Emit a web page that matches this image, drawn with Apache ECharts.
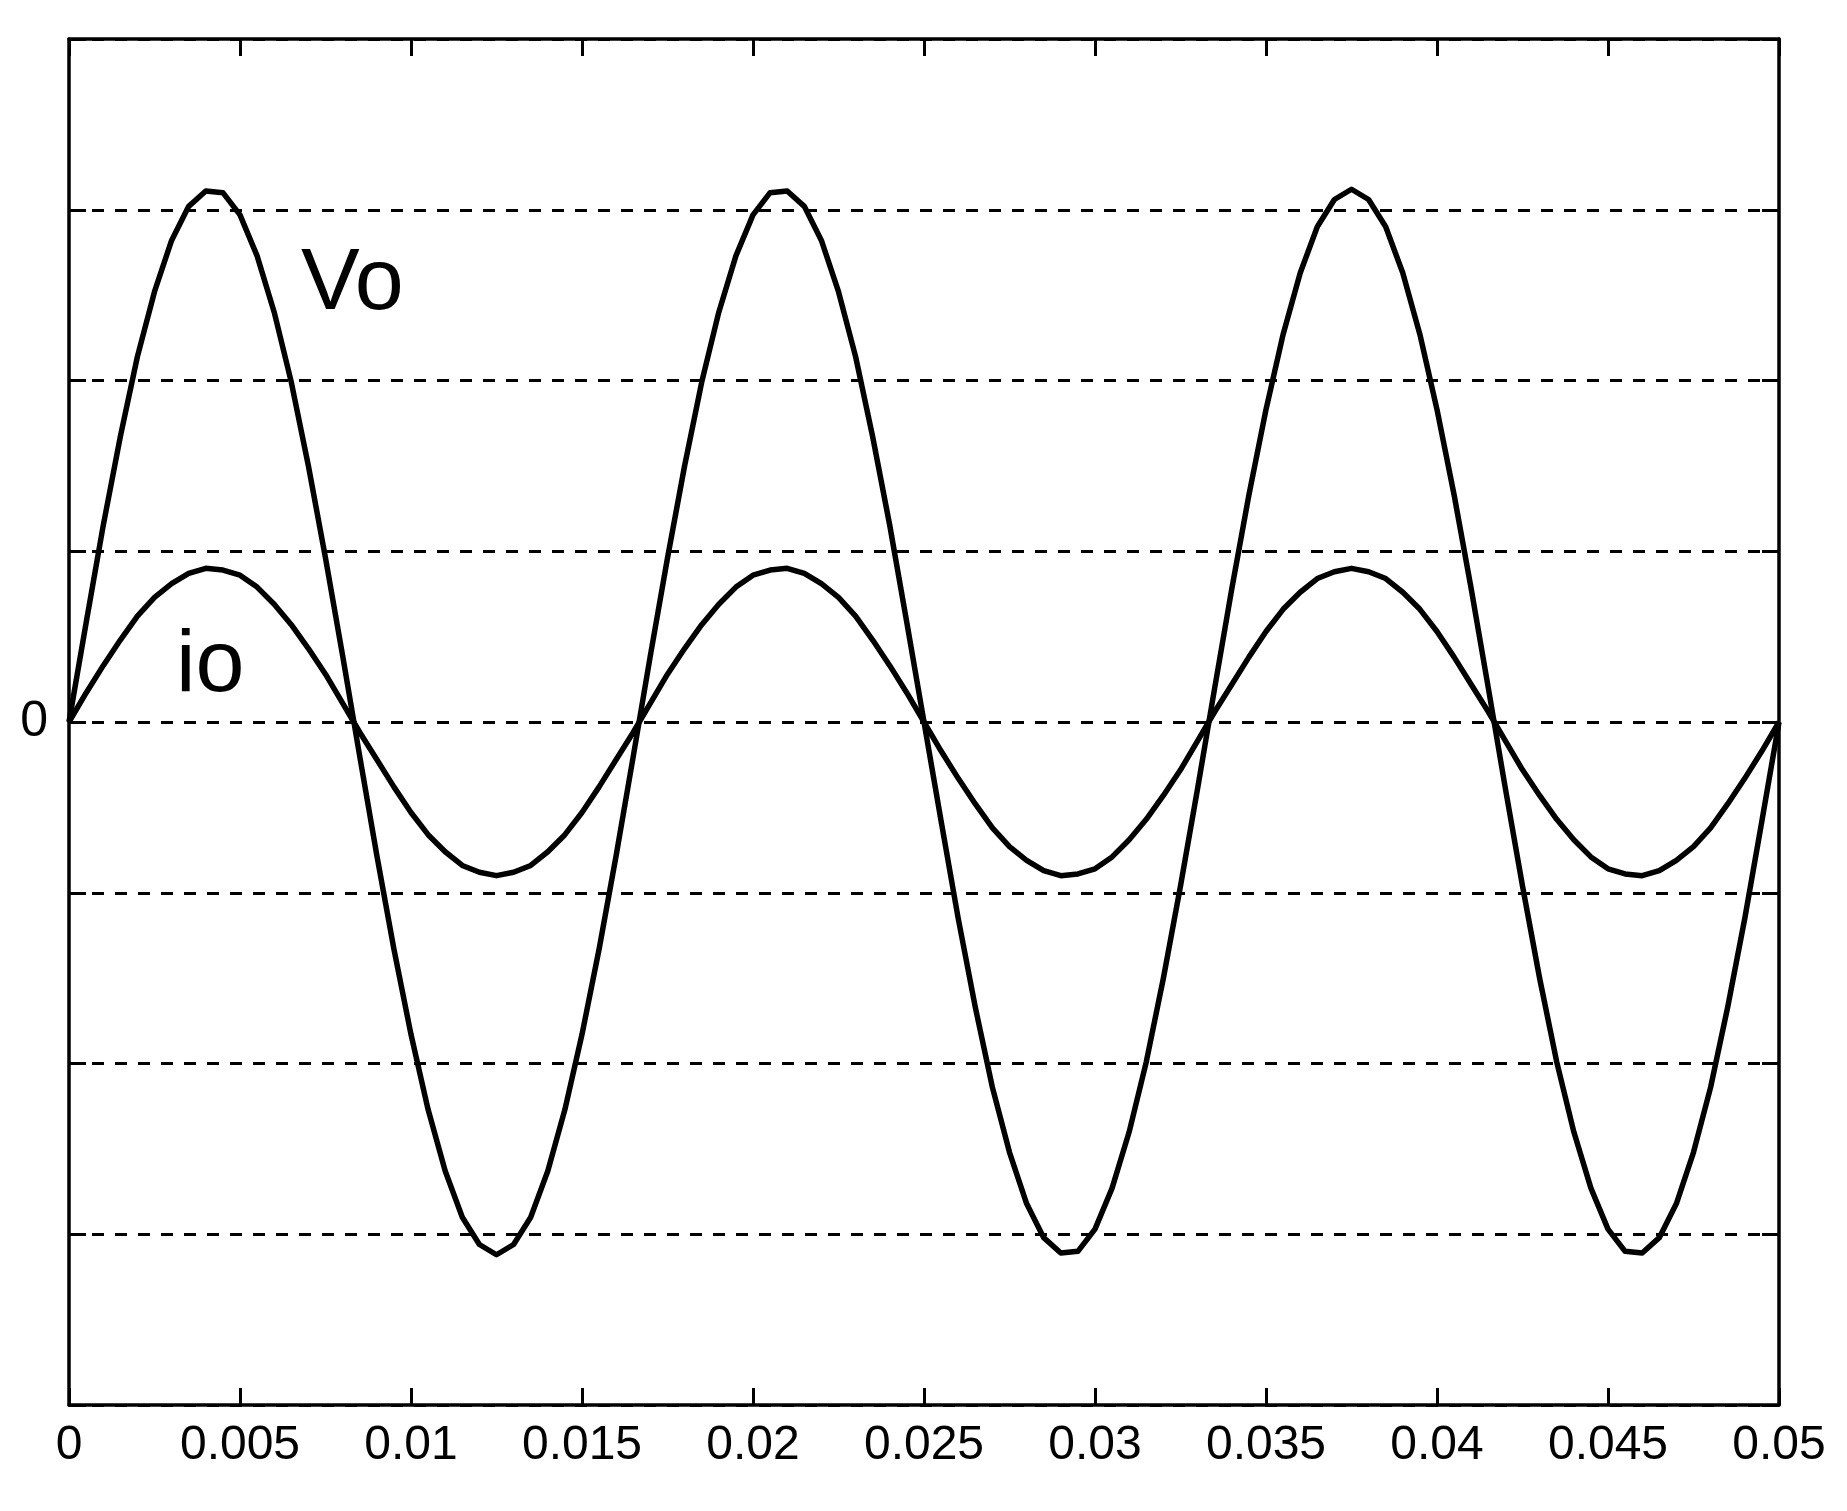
<!DOCTYPE html>
<html>
<head>
<meta charset="utf-8">
<script src="https://cdn.jsdelivr.net/npm/echarts@6/dist/echarts.min.js"></script>
<style>html,body{margin:0;padding:0;background:#fff;}#c{width:1847px;height:1511px;}</style>
</head>
<body>
<div id="c"></div>
<script>
// time samples (s)
const time = [
0,0.0005,0.001,0.0015,0.002,0.0025,0.003,0.0035,0.004,0.0045,
0.005,0.0055,0.006,0.0065,0.007,0.0075,0.008,0.0085,0.009,0.0095,
0.01,0.0105,0.011,0.0115,0.012,0.0125,0.013,0.0135,0.014,0.0145,
0.015,0.0155,0.016,0.0165,0.017,0.0175,0.018,0.0185,0.019,0.0195,
0.02,0.0205,0.021,0.0215,0.022,0.0225,0.023,0.0235,0.024,0.0245,
0.025,0.0255,0.026,0.0265,0.027,0.0275,0.028,0.0285,0.029,0.0295,
0.03,0.0305,0.031,0.0315,0.032,0.0325,0.033,0.0335,0.034,0.0345,
0.035,0.0355,0.036,0.0365,0.037,0.0375,0.038,0.0385,0.039,0.0395,
0.04,0.0405,0.041,0.0415,0.042,0.0425,0.043,0.0435,0.044,0.0445,
0.045,0.0455,0.046,0.0465,0.047,0.0475,0.048,0.0485,0.049,0.0495,
0.05];
// output voltage Vo
const vo = [
0,0.58,1.15,1.67,2.14,2.52,2.82,3.02,3.11,3.10,
2.97,2.73,2.40,1.99,1.50,0.96,0.39,-0.20,-0.78,-1.33,
-1.83,-2.27,-2.63,-2.90,-3.06,-3.12,-3.06,-2.90,-2.63,-2.27,
-1.83,-1.33,-0.78,-0.20,0.39,0.96,1.50,1.99,2.40,2.73,
2.97,3.10,3.11,3.02,2.82,2.52,2.14,1.67,1.15,0.58,
0,-0.58,-1.15,-1.67,-2.14,-2.52,-2.82,-3.02,-3.11,-3.10,
-2.97,-2.73,-2.40,-1.99,-1.50,-0.96,-0.39,0.20,0.78,1.33,
1.83,2.27,2.63,2.90,3.06,3.12,3.06,2.90,2.63,2.27,
1.83,1.33,0.78,0.20,-0.39,-0.96,-1.50,-1.99,-2.40,-2.73,
-2.97,-3.10,-3.11,-3.02,-2.82,-2.52,-2.14,-1.67,-1.15,-0.58,
0];
// output current io
const io = [
0,0.17,0.33,0.48,0.62,0.73,0.81,0.87,0.90,0.89,
0.86,0.79,0.69,0.57,0.43,0.28,0.11,-0.06,-0.22,-0.38,
-0.53,-0.66,-0.76,-0.84,-0.88,-0.90,-0.88,-0.84,-0.76,-0.66,
-0.53,-0.38,-0.22,-0.06,0.11,0.28,0.43,0.57,0.69,0.79,
0.86,0.89,0.90,0.87,0.81,0.73,0.62,0.48,0.33,0.17,
0,-0.17,-0.33,-0.48,-0.62,-0.73,-0.81,-0.87,-0.90,-0.89,
-0.86,-0.79,-0.69,-0.57,-0.43,-0.28,-0.11,0.06,0.22,0.38,
0.53,0.66,0.76,0.84,0.88,0.90,0.88,0.84,0.76,0.66,
0.53,0.38,0.22,0.06,-0.11,-0.28,-0.43,-0.57,-0.69,-0.79,
-0.86,-0.89,-0.90,-0.87,-0.81,-0.73,-0.62,-0.48,-0.33,-0.17,
0];
const xTickLabels = ['0','0.005','0.01','0.015','0.02','0.025','0.03','0.035','0.04','0.045','0.05'];
const yTickLabels = {'0':'0'};
const seriesNames = ['Vo','io'];

const chart = echarts.init(document.getElementById('c'));
const labelFont = "'Liberation Sans Narrow','Arial Narrow','Liberation Sans',Arial,sans-serif";
const tickStyle = {color:'#000', width:3};
const lineCol = '#000';
function xAxisDef(pos, showLabel){
  return {
    type:'value', position:pos, min:0, max:0.05, interval:0.005,
    axisLine:{show:true, onZero:false, lineStyle:{color:lineCol, width:3.5}},
    axisTick:{show:true, inside:true, length:17, lineStyle:tickStyle},
    axisLabel:{show:showLabel, margin:17, color:'#000', fontFamily:labelFont, fontSize:48,
      formatter:function(v){return xTickLabels[Math.round(v/0.005)] || '';}},
    splitLine:{show:false}
  };
}
function yAxisDef(pos, showLabel, grid){
  return {
    type:'value', position:pos, min:-4, max:4, interval:1,
    axisLine:{show:true, onZero:false, lineStyle:{color:lineCol, width:3.5}},
    axisTick:{show:true, inside:true, length:17, lineStyle:tickStyle},
    axisLabel:{show:showLabel, margin:21, color:'#000', fontFamily:labelFont, fontSize:50,
      formatter:function(v){return (Math.abs(v)<1e-9) ? yTickLabels['0'] : '';}},
    splitLine:{show:grid, lineStyle:{color:'#000', width:3, type:[12,11]}}
  };
}
chart.setOption({
  animation:false,
  backgroundColor:'#fff',
  grid:{left:69, right:68, top:39, bottom:106, containLabel:false},
  xAxis:[xAxisDef('bottom', true), xAxisDef('top', false)],
  yAxis:[yAxisDef('left', true, true), yAxisDef('right', false, false)],
  series:[
    {name:seriesNames[0], type:'line', showSymbol:false, smooth:false, z:3,
     lineStyle:{color:'#000', width:5.5, join:'round'}, data:time.map((t,i)=>[t,vo[i]])},
    {name:seriesNames[1], type:'line', showSymbol:false, smooth:false, z:3,
     lineStyle:{color:'#000', width:5.5, join:'round'}, data:time.map((t,i)=>[t,io[i]])}
  ],
  graphic:[
    {type:'text', left:301, top:285-44, style:{text:seriesNames[0], font:"88px 'Liberation Sans', Arial, sans-serif", fill:'#000'}},
    {type:'text', left:176, top:667-44, style:{text:seriesNames[1], font:"88px 'Liberation Sans', Arial, sans-serif", fill:'#000'}}
  ]
});
</script>
</body>
</html>
